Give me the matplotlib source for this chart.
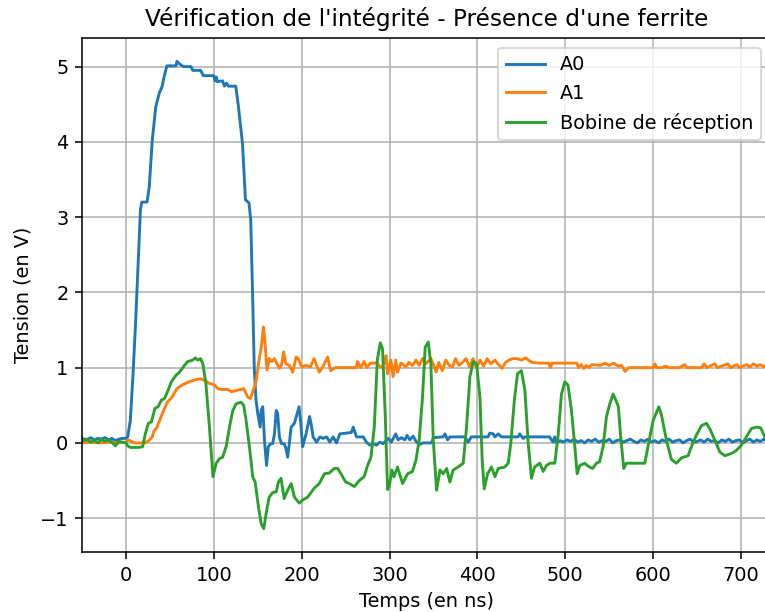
import matplotlib
matplotlib.use("Agg")
import matplotlib.pyplot as plt

# A0
t_a0 = [-50, -45, -40, -36, -32, -28, -24, -20, -16, -12, -8, -4, 0, 2, 5, 8, 11, 14, 16.5, 18,
        24, 26.5, 30, 34, 38, 41, 43.5, 46.6, 57, 58, 60.6, 64, 66, 74, 76, 85, 88, 100, 101.5,
        103, 104, 110, 112, 114.4, 116.7, 125, 128, 132.6, 136, 140, 142, 144.3, 146, 148, 150,
        152.7, 153.8, 155.7, 157.6, 160, 162, 165, 167, 169, 171, 172.7, 174.6, 177, 180, 182,
        184, 186, 188, 191.7, 197, 199, 201, 205, 209, 210.6, 213, 216.9, 220.7, 224.5, 228.3,
        232, 235.8, 239.6, 243.4, 251, 256.7, 258.6, 262.4, 270, 273.7, 277.5, 281.3, 285, 289,
        292.7, 298.4, 302, 307, 309.7, 313.5, 317.3, 320, 323, 326.8, 330.6, 334.4, 338.2, 348,
        349.7, 361, 363, 366, 368.6, 385.7, 389.5, 393, 412, 414, 418, 420, 423.6, 427.4, 446.3,
        448, 452, 454, 482, 486, 488, 490,
        494, 498, 502, 506, 510, 514, 518, 522, 526, 530, 534, 538, 542, 546, 550, 554, 558,
        562, 566, 570, 574, 578, 582, 586, 590, 594, 598, 602, 606, 610, 614, 618, 622, 626,
        630, 634, 638, 642, 646, 650, 654, 658, 662, 666, 670, 674, 678, 682, 686, 690, 694,
        698, 702, 706, 710, 714, 718, 722, 726, 730, 734]
v_a0 = [0.06, 0.04, 0.07, 0.04, 0.06, 0.05, 0.07, 0.04, 0.06, 0.03, 0.05, 0.06, 0.06, 0.08, 0.3,
        0.9, 1.6, 2.4, 3.1, 3.2, 3.2, 3.4, 4.03, 4.47, 4.65, 4.73, 4.87, 5.01, 5.01, 5.07, 5.04,
        5.01, 5.0, 5.0, 4.95, 4.95, 4.88, 4.88, 4.81, 4.86, 4.8, 4.81, 4.74, 4.78, 4.74, 4.74,
        4.47, 3.98, 3.23, 3.19, 2.96, 1.89, 1.0, 0.57, 0.39, 0.21, 0.43, 0.48, 0.04, -0.3,
        -0.05, -0.01, -0.01, 0.12, 0.43, 0.39, 0.08, -0.01, -0.01, -0.07, -0.19, 0.0, 0.21, 0.26,
        0.48, 0.26, -0.05, 0.12, 0.35, 0.26, 0.08, 0.01, 0.08, 0.06, 0.08, 0.01, 0.08, 0.0, 0.12,
        0.13, 0.14, 0.21, 0.08, 0.08, 0.01, -0.03, -0.01, -0.03, 0.01, -0.01, 0.06, 0.01, 0.12,
        0.04, 0.07, 0.04, 0.1, 0.04, 0.09, 0.01, -0.02, 0.0, 0.0, 0.07, 0.08, 0.12, 0.04, 0.08,
        0.08, 0.01, 0.08, 0.08, 0.13, 0.12, 0.08, 0.12, 0.08, 0.08, 0.12, 0.06, 0.08, 0.08, 0.01,
        0.08, 0.0,
        0.03, 0.01, 0.04, 0.02, 0.05, 0.01, 0.03, 0.0, 0.04, 0.02, 0.05, 0.01, 0.03, 0.02, 0.05,
        0.0, 0.03, 0.04, 0.01, 0.03, 0.05, 0.02, 0.0, 0.04, 0.02, 0.05, 0.01, 0.03, 0.0, 0.04,
        0.02, 0.05, 0.01, 0.03, 0.04, 0.0, 0.03, 0.05, 0.01, 0.02, 0.04, 0.01, 0.05, 0.02, 0.03,
        0.0, 0.04, 0.02, 0.05, 0.01, 0.03, 0.04, 0.0, 0.03, 0.05, 0.01, 0.04, 0.02, 0.05, 0.02,
        0.03]

# A1
t_a1 = [-50, -40, -30, -20, -10, 0, 3, 6, 10, 22, 26, 30, 31.6, 35.5, 39, 43, 47, 52.5, 58, 64,
        71.5, 79, 85, 90, 95, 100.8, 104.5, 108, 116, 120, 127, 134, 138.6, 141.7, 144.3, 148,
        152, 154, 156.4, 158, 160.6, 163, 166, 169, 172, 174.6, 177, 179.5, 182, 186, 189.8,
        193.6, 196, 200, 205, 210, 214, 220, 224, 229.5, 233, 238, 262, 263.6, 267, 271, 274,
        278, 286, 290, 293, 296, 297.7, 301.5, 304, 307, 309, 313, 318.6, 322, 326, 330, 333.7,
        337.5, 341, 347, 350.8, 353, 356, 360, 364, 367.8, 371.6, 375, 379, 383, 387, 391, 395,
        399, 403, 407, 411, 415, 420, 424, 428, 432, 436, 440, 445, 450, 455, 458, 462, 470, 481,
        483, 485, 513, 515, 518, 521, 524, 527, 530, 540, 545, 550, 555, 560, 564, 568, 572, 600,
        602, 604, 610, 614, 618, 630, 636, 638, 655, 658, 661, 670, 673, 685, 688, 695, 698, 702,
        706, 710, 714, 718, 722, 726, 730, 734]
v_a1 = [0.0, 0.01, 0.0, 0.01, 0.0, 0.01, 0.04, 0.02, 0.0, 0.0, 0.03, 0.08, 0.15, 0.21, 0.32,
        0.43, 0.54, 0.61, 0.72, 0.77, 0.81, 0.84, 0.85, 0.83, 0.79, 0.77, 0.72, 0.71, 0.71, 0.68,
        0.7, 0.72, 0.61, 0.59, 0.68, 0.81, 1.14, 1.27, 1.54, 1.36, 0.97, 1.12, 1.08, 1.12, 1.05,
        0.99, 1.03, 1.21, 1.05, 1.03, 0.94, 1.14, 1.12, 1.01, 1.03, 1.01, 1.12, 0.94, 1.01, 1.14,
        0.96, 1.0, 1.0, 1.08, 1.0, 1.08, 1.0, 1.06, 1.06, 1.0, 1.04, 1.16, 0.92, 1.1, 0.88, 1.1,
        0.94, 1.06, 1.01, 1.07, 1.03, 1.1, 1.03, 1.12, 1.05, 1.12, 1.01, 0.94, 1.07, 0.96, 1.1,
        1.03, 1.01, 1.12, 1.03, 1.07, 1.12, 1.01, 1.12, 1.0, 1.1, 1.02, 1.12, 1.05, 1.1, 1.04,
        0.99, 1.07, 1.1, 1.12, 1.12, 1.1, 1.13, 1.1, 1.07, 1.06, 1.06, 1.0, 1.06, 1.06, 1.0, 1.04,
        0.99, 1.03, 1.0, 1.04, 1.03, 1.06, 1.03, 1.06, 1.02, 1.03, 0.95, 1.0, 1.0, 1.05, 1.0, 1.0,
        1.02, 1.0, 1.0, 1.04, 1.0, 1.0, 1.05, 1.0, 1.05, 1.0, 1.05, 1.0, 1.04, 1.0, 1.02, 1.04,
        1.01, 1.05, 1.02, 1.04, 1.01, 1.05, 1.03]

# Bobine de reception
t_bob = [-50, -45, -40, -36, -32, -28, -24, -20, -16, -12, -8, -4, 0, 2, 5, 10, 15, 19, 22, 25.5,
         29, 33, 36.5, 40.5, 44, 48, 51.6, 57, 61, 64.7, 70, 76, 79, 81.5, 85, 87.5, 91, 95, 99,
         102.7, 106.4, 110, 114, 117.8, 121.6, 125.4, 131, 134, 136.7, 140.5, 144.3, 147, 150.8,
         153.8, 156.8, 159.5, 163, 167, 171, 173.5, 176.5, 180, 184, 188, 191.7, 197.3, 201,
         206.8, 212.5, 214.4, 220, 225.8, 231.4, 237, 241, 244.7, 250, 254, 260, 265.5, 271, 275,
         278.8, 282.6, 286, 289.4, 292, 295, 297.7, 299.6, 302.6, 305, 309, 314.8, 320.5, 326,
         330, 333.7, 337.5, 340.5, 344, 347, 349.7, 353.5, 357.3, 361, 365, 368.6, 372.4, 378,
         383.8, 387.6, 391.4, 395.2, 399, 402.8, 405.4, 407.7, 411.5, 416, 420, 423.6, 431, 435,
         438, 442, 445.6, 450, 454, 457.7, 461.5, 465, 471, 474.8, 478.6, 482.4, 488, 492, 495.6,
         499.4, 503, 507, 510.8, 513.4, 516.5, 522, 526, 531, 535.4, 539, 543, 546.8, 550.6,
         554.4, 557.4, 560.4, 562.7, 566.5, 569.5, 590.4, 594, 600, 606.4, 609.4, 615, 620.7,
         626.4, 632, 639.7, 643.5, 649, 655, 660.5, 664.3, 670, 675.7, 681.4, 689, 694.7, 700.3,
         706, 711.7, 717.4, 722.3, 726.9, 734]
v_bob = [0.02, 0.05, 0.01, 0.04, 0.0, 0.05, 0.02, 0.04, 0.01, -0.04, 0.02, 0.01, 0.0, -0.04,
         -0.06, -0.06, -0.06, -0.05, 0.12, 0.26, 0.28, 0.46, 0.48, 0.57, 0.59, 0.7, 0.81, 0.9,
         0.94, 1.0, 1.08, 1.1, 1.13, 1.1, 1.12, 1.05, 0.79, 0.21, -0.45, -0.27, -0.21, -0.19,
         -0.05, 0.21, 0.43, 0.52, 0.54, 0.5, 0.3, -0.05, -0.45, -0.52, -0.85, -1.07, -1.14,
         -0.94, -0.72, -0.66, -0.65, -0.52, -0.47, -0.74, -0.63, -0.54, -0.72, -0.8, -0.76,
         -0.72, -0.63, -0.6, -0.54, -0.41, -0.4, -0.34, -0.34, -0.41, -0.52, -0.54, -0.58, -0.5,
         -0.45, -0.3, -0.19, 0.21, 1.1, 1.33, 1.25, 0.39, -0.62, -0.58, -0.36, -0.45, -0.32,
         -0.54, -0.41, -0.38, -0.23, 0.04, 0.61, 1.27, 1.34, 1.05, 0.04, -0.63, -0.36, -0.41,
         -0.34, -0.52, -0.36, -0.32, -0.27, 0.21, 0.88, 1.08, 1.05, 0.61, -0.23, -0.61, -0.41,
         -0.32, -0.45, -0.34, -0.32, -0.27, 0.0, 0.57, 0.92, 0.96, 0.7, 0.0, -0.47, -0.32, -0.27,
         -0.38, -0.3, -0.27, -0.27, 0.12, 0.65, 0.81, 0.77, 0.43, -0.05, -0.41, -0.3, -0.27,
         -0.31, -0.34, -0.27, -0.25, -0.05, 0.35, 0.52, 0.65, 0.57, 0.48, 0.12, -0.34, -0.27,
         -0.27, -0.05, 0.3, 0.48, 0.37, 0.04, -0.22, -0.27, -0.2, -0.17, -0.05, 0.1, 0.23, 0.26,
         0.19, 0.04, -0.12, -0.17, -0.14, -0.1, -0.03, 0.08, 0.19, 0.21, 0.2, 0.08, 0.05]

DPI = 139
fig = plt.figure(figsize=(765 / DPI, 612 / DPI), dpi=DPI)
ax = fig.add_axes([0.1072, 0.098, 0.9006, 0.8399])

ax.plot(t_a0, v_a0, label="A0")
ax.plot(t_a1, v_a1, label="A1")
ax.plot(t_bob, v_bob, label="Bobine de réception")

ax.set_xlim(-50, 734)
ax.set_ylim(-1.45, 5.38)
ax.grid(True)
ax.set_title("Vérification de l'intégrité - Présence d'une ferrite")
ax.set_xlabel("Temps (en ns)")
ax.set_ylabel("Tension (en V)")
ax.legend(loc="upper right")

fig.savefig("out.png", dpi=DPI)
